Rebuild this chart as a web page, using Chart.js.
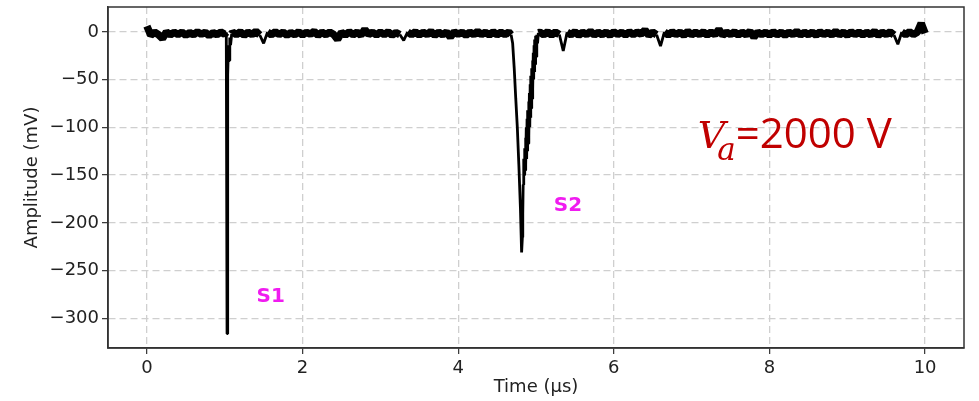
<!DOCTYPE html>
<html>
<head>
<meta charset="utf-8">
<script src="https://cdn.jsdelivr.net/npm/chart.js@4/dist/chart.umd.min.js"></script>
<style>
  html, body { margin: 0; padding: 0; background: #fff; }
  #wrap { width: 979px; height: 401px; }
</style>
</head>
<body>
<div id="wrap"><canvas id="myChart" width="979" height="401"></canvas></div>
<script>
// time axis in microseconds
const timeUs = [
  // baseline before S1
  0.00,0.05,0.10,0.15,0.20,0.25,0.30,0.35,0.40,0.45,
  0.50,0.55,0.60,0.65,0.70,0.75,0.80,0.85,0.90,0.95,1.00,
  // S1 pulse
  1.020,1.030,1.034,1.038,1.042,1.048,1.055,1.065,1.075,1.090,
  // baseline between pulses
  1.10,1.15,1.20,1.25,1.30,1.35,1.40,1.45,1.50,1.55,
  1.60,1.65,1.70,1.75,1.80,1.85,1.90,1.95,2.00,2.05,
  2.10,2.15,2.20,2.25,2.30,2.35,2.40,2.45,2.50,2.55,
  2.60,2.65,2.70,2.75,2.80,2.85,2.90,2.95,3.00,3.05,
  3.10,3.15,3.20,3.25,3.30,3.35,3.40,3.45,3.50,3.55,
  3.60,3.65,3.70,3.75,3.80,3.85,3.90,3.95,4.00,4.05,
  4.10,4.15,4.20,4.25,4.30,4.35,4.40,4.45,4.50,4.55,
  4.60,4.65,
  // S2 pulse: falling edge, then the noisy rising edge
  4.68,4.70,4.72,4.74,4.76,4.78,4.80,4.815,4.825,4.83,4.835,4.84,
  4.845,4.850,4.855,4.860,4.865,4.870,4.875,4.880,4.885,4.890,
  4.895,4.900,4.905,4.910,4.915,4.920,4.925,4.930,4.935,4.940,
  4.945,4.950,4.955,4.960,4.965,4.970,4.975,4.980,4.985,4.990,
  4.995,5.000,5.01,5.02,5.03,
  // baseline after S2
  5.05,5.10,5.15,5.20,5.25,5.30,5.35,5.40,5.45,5.50,
  5.55,5.60,5.65,5.70,5.75,5.80,5.85,5.90,5.95,6.00,
  6.05,6.10,6.15,6.20,6.25,6.30,6.35,6.40,6.45,6.50,
  6.55,6.60,6.65,6.70,6.75,6.80,6.85,6.90,6.95,7.00,
  7.05,7.10,7.15,7.20,7.25,7.30,7.35,7.40,7.45,7.50,
  7.55,7.60,7.65,7.70,7.75,7.80,7.85,7.90,7.95,8.00,
  8.05,8.10,8.15,8.20,8.25,8.30,8.35,8.40,8.45,8.50,
  8.55,8.60,8.65,8.70,8.75,8.80,8.85,8.90,8.95,9.00,
  9.05,9.10,9.15,9.20,9.25,9.30,9.35,9.40,9.45,9.50,
  9.55,9.60,9.65,9.70,9.75,9.80,9.85,9.90,9.95,10.00
];

// amplitude in mV
const amplitudeMv = [
  6,-3.5,-0.5,-3,-7,0,-3.2,-0.5,-2.8,-0.3,
  -3.6,-0.8,-3,0,-2.5,-0.5,-4,-0.8,-3,-0.3,-2.5,
  -0.5,-316,-50,-22,-45,-14,-30,-6,-14,-2,
  -0.3,-3,0,-3.6,-0.5,-2.8,0.5,-3.3,-12,-0.5,
  -3,0,-2.8,-0.3,-3.6,-0.8,-3,0,-3.3,-0.5,
  -2.5,0.5,-3.6,-0.5,-3,-0.3,-2.8,-8,-0.5,-3.3,
  0,-3,-0.5,-3.6,2.5,-2.8,-0.5,-3.3,-0.3,-3,
  0,-3.6,-0.8,-2.8,-9,-0.3,-3,0,-3.3,-0.5,
  -2.8,0.5,-3.6,-0.5,-3,-0.3,-5.5,0,-2.5,-0.5,
  -3.6,-0.3,-3,0.5,-2.8,-0.5,-3.3,0,-3,-0.5,
  -2.8,-0.3,
  -3,-12,-38,-70,-100,-140,-185,-231,-215,-190,-160,-138,
  -133,-150,-122,-145,-111,-140,-100,-133,-91,-125,
  -82,-117,-73,-109,-64,-100,-55,-90,-46,-80,
  -38,-70,-30,-60,-22,-50,-14,-42,-8,-34,
  -4,-26,-3,-12,-1,
  -0.5,-3,0,-3.3,-0.3,-2.8,-20,-0.5,-3,0,
  -3.6,-0.5,-2.8,0.5,-3.3,-0.5,-3,-0.3,-3.6,0,
  -2.8,-0.5,-3.3,0,-3,-0.3,-2.5,2,-3.6,-0.5,
  -3,-15,-0.3,-3.3,0,-2.8,-0.5,-3.6,0.5,-3,
  -0.5,-2.8,0,-3.3,-0.3,-3,2.5,-3.6,-0.5,-2.8,
  0,-3.3,-0.5,-3,0.5,-5.5,-0.3,-2.8,-0.5,-3.3,
  0,-3,-0.5,-3.6,-0.3,-2.8,0.5,-3.3,-0.5,-3,
  -0.3,-3.6,0,-2.8,-0.5,-3.3,0.5,-3,-0.5,-3.6,
  0,-2.8,-0.3,-3.3,-0.5,-3,0.5,-3.6,-0.5,-2.8,
  0,-3.3,-13,-0.3,-3,0,-2.8,-0.5,9,-1.5
];

const xTicks = [0, 2, 4, 6, 8, 10];
const yTicks = [0, -50, -100, -150, -200, -250, -300];

const peakLabels = ["S1", "S2"];
const peakLabelAt = [[1.59, -277], [5.41, -182]];

const tickFont = { family: "DejaVu Sans", size: 18 };

const points = timeUs.map((t, i) => ({ x: t, y: amplitudeMv[i] }));

// noise band is drawn heavier than the pulses
const inBand = (v) => v >= -8 && v <= 10;

// frame around the plot + text labels
const decorPlugin = {
  id: "decor",
  afterDraw(chart) {
    const { ctx, chartArea: a, scales } = chart;
    ctx.save();
    ctx.strokeStyle = "#333";
    ctx.lineWidth = 1.5;
    ctx.strokeRect(a.left, a.top, a.right - a.left, a.bottom - a.top);

    ctx.fillStyle = "#f01cf0";
    ctx.font = "bold 20px 'DejaVu Sans'";
    ctx.textAlign = "center";
    ctx.textBaseline = "middle";
    peakLabels.forEach((txt, i) => {
      const [px, py] = peakLabelAt[i];
      ctx.fillText(txt, scales.x.getPixelForValue(px), scales.y.getPixelForValue(py));
    });

    // V_a = 2000 V
    let x = scales.x.getPixelForValue(7.08);
    const base = scales.y.getPixelForValue(-122);
    ctx.fillStyle = "#c00000";
    ctx.textAlign = "left";
    ctx.textBaseline = "alphabetic";
    ctx.font = "italic 38px 'DejaVu Serif'";
    ctx.fillText("V", x, base);
    x += ctx.measureText("V").width - 8;
    ctx.font = "italic 31px 'DejaVu Serif'";
    ctx.fillText("a", x, base + 12);
    x += ctx.measureText("a").width;
    ctx.font = "42px 'Open Sans'";
    ctx.fillText("=2000 V", x, base);
    ctx.restore();
  }
};

new Chart(document.getElementById("myChart").getContext("2d"), {
  type: "line",
  data: {
    datasets: [{
      data: points,
      borderColor: "#000",
      borderWidth: 2.4,
      borderJoinStyle: "bevel",
      pointRadius: 0,
      tension: 0,
      fill: false,
      segment: {
        borderWidth: (c) => (inBand(c.p0.parsed.y) && inBand(c.p1.parsed.y)) ? 7.5 : 2.8
      }
    }]
  },
  options: {
    responsive: false,
    animation: false,
    devicePixelRatio: 1,
    layout: { padding: { top: 7, right: 15, left: 0, bottom: 0 } },
    plugins: { legend: { display: false }, tooltip: { enabled: false } },
    scales: {
      x: {
        type: "linear",
        min: -0.5,
        max: 10.5,
        afterBuildTicks: (axis) => { axis.ticks = xTicks.map(v => ({ value: v })); },
        afterFit: (axis) => { axis.height = 53; axis.paddingLeft = 0; axis.paddingRight = 0; },
        ticks: { font: tickFont, color: "#222", padding: 4, maxRotation: 0 },
        grid: {
          color: "#cfcfcf", lineWidth: 1.3,
          tickColor: "#333", tickBorderDash: [], tickLength: 6, tickWidth: 1.2
        },
        border: { display: true, color: "#333", width: 1.5, dash: [7, 4] },
        title: { display: true, text: "Time (μs)", font: tickFont, color: "#222", padding: { top: 0, bottom: 3 } }
      },
      y: {
        type: "linear",
        min: -331,
        max: 26,
        afterBuildTicks: (axis) => { axis.ticks = yTicks.map(v => ({ value: v })); },
        afterFit: (axis) => { axis.width = 108; axis.paddingTop = 0; axis.paddingBottom = 0; },
        ticks: { font: tickFont, color: "#222", padding: 3, callback: (v) => String(v).replace("-", "\u2212") },
        grid: {
          color: "#cfcfcf", lineWidth: 1.3,
          tickColor: "#333", tickBorderDash: [], tickLength: 6, tickWidth: 1.2
        },
        border: { display: true, color: "#333", width: 1.5, dash: [7, 4] },
        title: { display: true, text: "Amplitude (mV)", font: tickFont, color: "#222", padding: { top: 22, bottom: 0 } }
      }
    }
  },
  plugins: [decorPlugin]
});
</script>
</body>
</html>
